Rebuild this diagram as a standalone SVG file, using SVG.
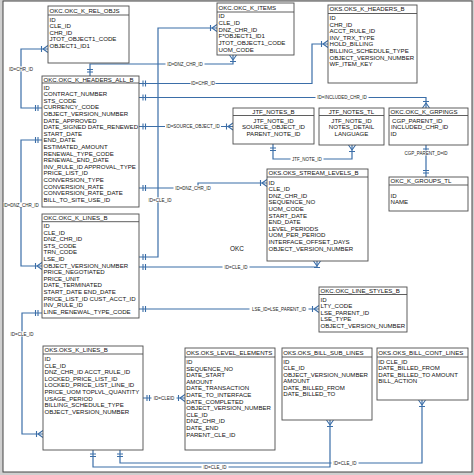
<svg xmlns="http://www.w3.org/2000/svg" width="474" height="475" viewBox="0 0 474 475">
<style>
.box rect{fill:#fff;stroke:#4d4d4d;stroke-width:0.9}
.box line{stroke:#4d4d4d;stroke-width:0.9}
.t{font-family:"Liberation Sans",Arial,sans-serif;font-size:6.1px;fill:#111}
.c{text-anchor:middle}
.conn path{fill:none;stroke:#3b6ea8;stroke-width:1.2}
.lb rect{fill:#fff}
.lb text{font-family:"Liberation Sans",Arial,sans-serif;font-size:4.5px;fill:#222;text-anchor:middle}
</style>
<defs>
<marker id="one" viewBox="-10 -10 20 20" refX="0" refY="0" markerWidth="20" markerHeight="20" markerUnits="userSpaceOnUse" orient="auto">
<path d="M4,-3V3M6.5,-3V3" stroke="#3b6ea8" stroke-width="1.1" fill="none"/>
</marker>
<marker id="oneEnd" viewBox="-10 -10 20 20" refX="0" refY="0" markerWidth="20" markerHeight="20" markerUnits="userSpaceOnUse" orient="auto">
<path d="M-4,-3V3M-6.5,-3V3" stroke="#3b6ea8" stroke-width="1.1" fill="none"/>
</marker>
<marker id="many" viewBox="-10 -10 20 20" refX="0" refY="0" markerWidth="20" markerHeight="20" markerUnits="userSpaceOnUse" orient="auto">
<path d="M-5,0L0,-3.5M-5,0L0,3.5M-6.5,-3V3" stroke="#3b6ea8" stroke-width="1.1" fill="none"/>
</marker>
</defs>
<rect x="0" y="0" width="474" height="475" fill="#cfcfcf"/>
<rect x="3" y="1" width="469" height="471" fill="#fff" stroke="#444" stroke-width="1"/>

<g id="connectors" class="conn">
<path d="M42,108H21V49H48" marker-start="url(#one)" marker-end="url(#many)"/>
<path d="M90,76V64H233V55" marker-start="url(#one)" marker-end="url(#many)"/>
<path d="M139,83.5H312V44H328" marker-start="url(#one)" marker-end="url(#many)"/>
<path d="M139,97.5H426V108" marker-start="url(#one)" marker-end="url(#many)"/>
<path d="M139,126.5H233" marker-start="url(#one)" marker-end="url(#many)"/>
<path d="M42,140H21V266H42" marker-start="url(#one)" marker-end="url(#many)"/>
<path d="M139,188H198V183H267" marker-start="url(#one)" marker-end="url(#many)"/>
<path d="M139,257H158V28H217" marker-start="url(#one)" marker-end="url(#many)"/>
<path d="M139,267H317V261" marker-start="url(#one)" marker-end="url(#many)"/>
<path d="M139,309H319" marker-start="url(#one)" marker-end="url(#many)"/>
<path d="M42,313H22V434H43" marker-start="url(#one)" marker-end="url(#many)"/>
<path d="M143,398H185" marker-start="url(#one)" marker-end="url(#many)"/>
<path d="M93,450V467H330V420" marker-start="url(#one)" marker-end="url(#many)"/>
<path d="M120,450V463H422V400" marker-start="url(#one)" marker-end="url(#many)"/>
<path d="M273,144V159H352V145" marker-start="url(#one)" marker-end="url(#many)"/>
<path d="M426,145V177" marker-start="url(#one)" marker-end="url(#oneEnd)"/>
<g class="lb">
<rect x="8.5" y="66.4" width="25" height="5"/><text x="21" y="70.6">ID=CHR_ID</text>
<rect x="165.5" y="61.4" width="39" height="5"/><text x="185" y="65.6">ID=DNZ_CHR_ID</text>
<rect x="190.5" y="80.9" width="25" height="5"/><text x="203" y="85.1">ID=CHR_ID</text>
<rect x="315.5" y="94.9" width="53" height="5"/><text x="342" y="99.1">ID=INCLUDED_CHR_ID</text>
<rect x="165" y="123.9" width="56" height="5"/><text x="193" y="128.1">ID=SOURCE_OBJECT_ID</text>
<rect x="3.5" y="202.4" width="35" height="5"/><text x="21" y="206.6">ID=DNZ_CHR_ID</text>
<rect x="173.5" y="185.4" width="39" height="5"/><text x="193" y="189.6">ID=DNZ_CHR_ID</text>
<rect x="146.5" y="197.4" width="27" height="5"/><text x="160" y="201.6">ID=CLE_ID</text>
<rect x="222.5" y="264.4" width="27" height="5"/><text x="236" y="268.6">ID=CLE_ID</text>
<rect x="249.5" y="306.4" width="59" height="5"/><text x="279" y="310.6">LSE_ID=LSE_PARENT_ID</text>
<rect x="8.5" y="331.4" width="27" height="5"/><text x="22" y="335.6">ID=CLE_ID</text>
<rect x="151.5" y="395.4" width="25" height="5"/><text x="164" y="399.6">ID=CLEID</text>
<rect x="201.5" y="464.4" width="27" height="5"/><text x="215" y="468.6">ID=CLE_ID</text>
<rect x="331.5" y="460.4" width="27" height="5"/><text x="345" y="464.6">ID=CLE_ID</text>
<rect x="290.5" y="156.4" width="33" height="5"/><text x="307" y="160.6">JTF_NOTE_ID</text>
<rect x="404" y="150.4" width="44" height="5"/><text x="426" y="154.6">CGP_PARENT_D=ID</text>
</g>
</g>

<text class="t" x="230" y="251" style="font-size:6.4px">OKC</text>

<g id="okc_k_rel_objs" class="box">
<rect x="48" y="6" width="81" height="57"/><line x1="48" y1="15" x2="129" y2="15"/>
<text class="t" x="49.5" y="13.2">OKC.OKC_K_REL_OBJS</text>
<text class="t"><tspan x="49.5" y="21.5">ID</tspan><tspan x="49.5" y="28">CLE_ID</tspan><tspan x="49.5" y="34.5">CHR_ID</tspan><tspan x="49.5" y="41">JTOT_OBJECT1_CODE</tspan><tspan x="49.5" y="47.5">OBJECT1_ID1</tspan></text>
</g>

<g id="okc_k_items" class="box">
<rect x="217" y="3" width="77" height="52"/><line x1="217" y1="12" x2="294" y2="12"/>
<text class="t" x="218.5" y="9.6">OKC.OKC_K_ITEMS</text>
<text class="t"><tspan x="218.5" y="18.3">ID</tspan><tspan x="218.5" y="25">CLE_ID</tspan><tspan x="218.5" y="31.7">DNZ_CHR_ID</tspan><tspan x="218.5" y="38.4">F*OBJECT1_ID1</tspan><tspan x="218.5" y="45.1">JTOT_OBJECT1_CODE</tspan><tspan x="218.5" y="51.8">UOM_CODE</tspan></text>
</g>

<g id="oks_k_headers_b" class="box">
<rect x="328" y="5" width="89" height="78"/><line x1="328" y1="13.5" x2="417" y2="13.5"/>
<text class="t" x="329.5" y="11.4">OKS.OKS_K_HEADERS_B</text>
<text class="t"><tspan x="329.5" y="19.9">ID</tspan><tspan x="329.5" y="26.5">CHR_ID</tspan><tspan x="329.5" y="33.1">ACCT_RULE_ID</tspan><tspan x="329.5" y="39.7">INV_TRX_TYPE</tspan><tspan x="329.5" y="46.3">HOLD_BILLING</tspan><tspan x="329.5" y="52.9">BILLING_SCHEDULE_TYPE</tspan><tspan x="329.5" y="59.5">OBJECT_VERSION_NUMBER</tspan><tspan x="329.5" y="66.1">WF_ITEM_KEY</tspan></text>
</g>

<g id="okc_k_headers_all_b" class="box">
<rect x="42" y="76" width="97" height="131"/><line x1="42" y1="83" x2="139" y2="83"/>
<text class="t" x="43.5" y="81.9">OKC.OKC_K_HEADERS_ALL_B</text>
<text class="t"><tspan x="43.5" y="89.5">ID</tspan><tspan x="43.5" y="96.1">CONTRACT_NUMBER</tspan><tspan x="43.5" y="102.7">STS_CODE</tspan><tspan x="43.5" y="109.3">CURRENCY_CODE</tspan><tspan x="43.5" y="115.9">OBJECT_VERSION_NUMBER</tspan><tspan x="43.5" y="122.5">DATE_APPROVED</tspan><tspan x="43.5" y="129.1">DATE_SIGNED DATE_RENEWED</tspan><tspan x="43.5" y="135.7">START_DATE</tspan><tspan x="43.5" y="142.3">END_DATE</tspan><tspan x="43.5" y="148.9">ESTIMATED_AMOUNT</tspan><tspan x="43.5" y="155.5">RENEWAL_TYPE_CODE</tspan><tspan x="43.5" y="162.1">RENEWAL_END_DATE</tspan><tspan x="43.5" y="168.7">INV_RULE_ID APPROVAL_TYPE</tspan><tspan x="43.5" y="175.3">PRICE_LIST_ID</tspan><tspan x="43.5" y="181.9">CONVERSION_TYPE</tspan><tspan x="43.5" y="188.5">CONVERSION_RATE</tspan><tspan x="43.5" y="195.1">CONVERSION_RATE_DATE</tspan><tspan x="43.5" y="201.7">BILL_TO_SITE_USE_ID</tspan></text>
</g>

<g id="jtf_notes_b" class="box">
<rect x="233" y="108" width="81" height="36"/><line x1="233" y1="115.5" x2="314" y2="115.5"/>
<text class="t c" x="273.5" y="113.9">JTF_NOTES_B</text>
<text class="t c"><tspan x="273.5" y="122.9">JTF_NOTE_ID</tspan><tspan x="273.5" y="129.4">SOURCE_OBJECT_ID</tspan><tspan x="273.5" y="135.9">PARENT_NOTE_ID</tspan></text>
</g>

<g id="jtf_notes_tl" class="box">
<rect x="319" y="108" width="65" height="37"/><line x1="319" y1="115.5" x2="384" y2="115.5"/>
<text class="t c" x="351.5" y="113.9">JTF_NOTES_TL</text>
<text class="t c"><tspan x="351.5" y="122.9">JTF_NOTE_ID</tspan><tspan x="351.5" y="129.4">NOTES_DETAIL</tspan><tspan x="351.5" y="135.9">LANGUAGE</tspan></text>
</g>

<g id="okc_k_grpings" class="box">
<rect x="389" y="108" width="79" height="37"/><line x1="389" y1="115.5" x2="468" y2="115.5"/>
<text class="t" x="390.5" y="113.9">OKC.OKC_K_GRPINGS</text>
<text class="t"><tspan x="392" y="122.9">CGP_PARENT_ID</tspan><tspan x="391" y="129.4">INCLUDED_CHR_ID</tspan><tspan x="390.5" y="135.9">ID</tspan></text>
</g>

<g id="okc_k_groups_tl" class="box">
<rect x="389" y="177" width="79" height="34"/><line x1="389" y1="185" x2="468" y2="185"/>
<text class="t" x="390.5" y="183.3">OKC_K_GROUPS_TL</text>
<text class="t"><tspan x="390.5" y="197.8">ID</tspan><tspan x="390.5" y="204.4">NAME</tspan></text>
</g>

<g id="oks_stream_levels_b" class="box">
<rect x="267" y="169" width="101" height="92"/><line x1="267" y1="177" x2="368" y2="177"/>
<text class="t" x="268.5" y="175.3">OKS.OKS_STREAM_LEVELS_B</text>
<text class="t"><tspan x="268.5" y="184.5">ID</tspan><tspan x="268.5" y="191.1">CLE_ID</tspan><tspan x="268.5" y="197.7">DNZ_CHR_ID</tspan><tspan x="268.5" y="204.3">SEQUENCE_NO</tspan><tspan x="268.5" y="210.9">UOM_CODE</tspan><tspan x="268.5" y="217.5">START_DATE</tspan><tspan x="268.5" y="224.1">END_DATE</tspan><tspan x="268.5" y="230.7">LEVEL_PERIODS</tspan><tspan x="268.5" y="237.3">UOM_PER_PERIOD</tspan><tspan x="268.5" y="243.9">INTERFACE_OFFSET_DAYS</tspan><tspan x="268.5" y="250.5">OBJECT_VERSION_NUMBER</tspan></text>
</g>

<g id="okc_k_lines_b" class="box">
<rect x="42" y="214" width="97" height="104"/><line x1="42" y1="221.7" x2="139" y2="221.7"/>
<text class="t" x="43.5" y="219.9">OKC.OKC_K_LINES_B</text>
<text class="t"><tspan x="43.5" y="227.9">ID</tspan><tspan x="43.5" y="234.5">CLE_ID</tspan><tspan x="43.5" y="241.1">DNZ_CHR_ID</tspan><tspan x="43.5" y="247.7">STS_CODE</tspan><tspan x="43.5" y="254.3">TRN_CODE</tspan><tspan x="43.5" y="260.9">LSE_ID</tspan><tspan x="43.5" y="267.5">OBJECT_VERSION_NUMBER</tspan><tspan x="43.5" y="274.1">PRICE_NEGOTIATED</tspan><tspan x="43.5" y="280.7">PRICE_UNIT</tspan><tspan x="43.5" y="287.3">DATE_TERMINATED</tspan><tspan x="43.5" y="293.9">START_DATE END_DATE</tspan><tspan x="43.5" y="300.5">PRICE_LIST_ID CUST_ACCT_ID</tspan><tspan x="43.5" y="307.1">INV_RULE_ID</tspan><tspan x="43.5" y="313.7">LINE_RENEWAL_TYPE_CODE</tspan></text>
</g>

<g id="okc_line_styles_b" class="box">
<rect x="319" y="287" width="88" height="45"/><line x1="319" y1="294.5" x2="407" y2="294.5"/>
<text class="t" x="320.5" y="292.9">OKC.OKC_LINE_STYLES_B</text>
<text class="t"><tspan x="320.5" y="301.5">ID</tspan><tspan x="320.5" y="308.1">LTY_CODE</tspan><tspan x="320.5" y="314.7">LSE_PARENT_ID</tspan><tspan x="320.5" y="321.3">LSE_TYPE</tspan><tspan x="320.5" y="327.9">OBJECT_VERSION_NUMBER</tspan></text>
</g>

<g id="oks_k_lines_b" class="box">
<rect x="43" y="346" width="100" height="104"/><line x1="43" y1="354" x2="143" y2="354"/>
<text class="t" x="44.5" y="352.2">OKS.OKS_K_LINES_B</text>
<text class="t"><tspan x="44.5" y="361.2">ID</tspan><tspan x="44.5" y="367.8">CLE_ID</tspan><tspan x="44.5" y="374.3">DNZ_CHR_ID ACCT_RULE_ID</tspan><tspan x="44.5" y="380.9">LOCKED_PRICE_LIST_ID</tspan><tspan x="44.5" y="387.4">LOCKED_PRICE_LIST_LINE_ID</tspan><tspan x="44.5" y="394">PRICE_UOM TOPLVL_QUANTITY</tspan><tspan x="44.5" y="400.5">USAGE_PERIOD</tspan><tspan x="44.5" y="407.1">BILLING_SCHEDULE_TYPE</tspan><tspan x="44.5" y="413.6">OBJECT_VERSION_NUMBER</tspan></text>
</g>

<g id="oks_level_elements" class="box">
<rect x="185" y="348" width="90" height="102"/><line x1="185" y1="357" x2="275" y2="357"/>
<text class="t" x="186.3" y="355.3">OKS.OKS_LEVEL_ELEMENTS</text>
<text class="t"><tspan x="186.3" y="363.9">ID</tspan><tspan x="186.3" y="370.5">SEQUENCE_NO</tspan><tspan x="186.3" y="377.1">DATE_START</tspan><tspan x="186.3" y="383.7">AMOUNT</tspan><tspan x="186.3" y="390.3">DATE_TRANSACTION</tspan><tspan x="186.3" y="396.9">DATE_TO_INTERFACE</tspan><tspan x="186.3" y="403.5">DATE_COMPLETED</tspan><tspan x="186.3" y="410.1">OBJECT_VERSION_NUMBER</tspan><tspan x="186.3" y="416.7">CLE_ID</tspan><tspan x="186.3" y="423.3">DNZ_CHR_ID</tspan><tspan x="186.3" y="429.9">DATE_END</tspan><tspan x="186.3" y="436.5">PARENT_CLE_ID</tspan></text>
</g>

<g id="oks_bill_sub_lines" class="box">
<rect x="282" y="348" width="90" height="72"/><line x1="282" y1="357" x2="372" y2="357"/>
<text class="t" x="283.3" y="355.3">OKS.OKS_BILL_SUB_LINES</text>
<text class="t"><tspan x="283.3" y="363.9">ID</tspan><tspan x="283.3" y="370.4">CLE_ID</tspan><tspan x="283.3" y="376.9">OBJECT_VERSION_NUMBER</tspan><tspan x="283.3" y="383.4">AMOUNT</tspan><tspan x="283.3" y="389.9">DATE_BILLED_FROM</tspan><tspan x="283.3" y="396.4">DATE_BILLED_TO</tspan></text>
</g>

<g id="oks_bill_cont_lines" class="box">
<rect x="377" y="348" width="91" height="52"/><line x1="377" y1="357" x2="468" y2="357"/>
<text class="t" x="378.3" y="355.3">OKS.OKS_BILL_CONT_LINES</text>
<text class="t"><tspan x="378.3" y="363.9">ID CLE_ID</tspan><tspan x="378.3" y="370.4">DATE_BILLED_FROM</tspan><tspan x="378.3" y="376.9">DATE_BILLED_TO AMOUNT</tspan><tspan x="378.3" y="383.4">BILL_ACTION</tspan></text>
</g>
</svg>
